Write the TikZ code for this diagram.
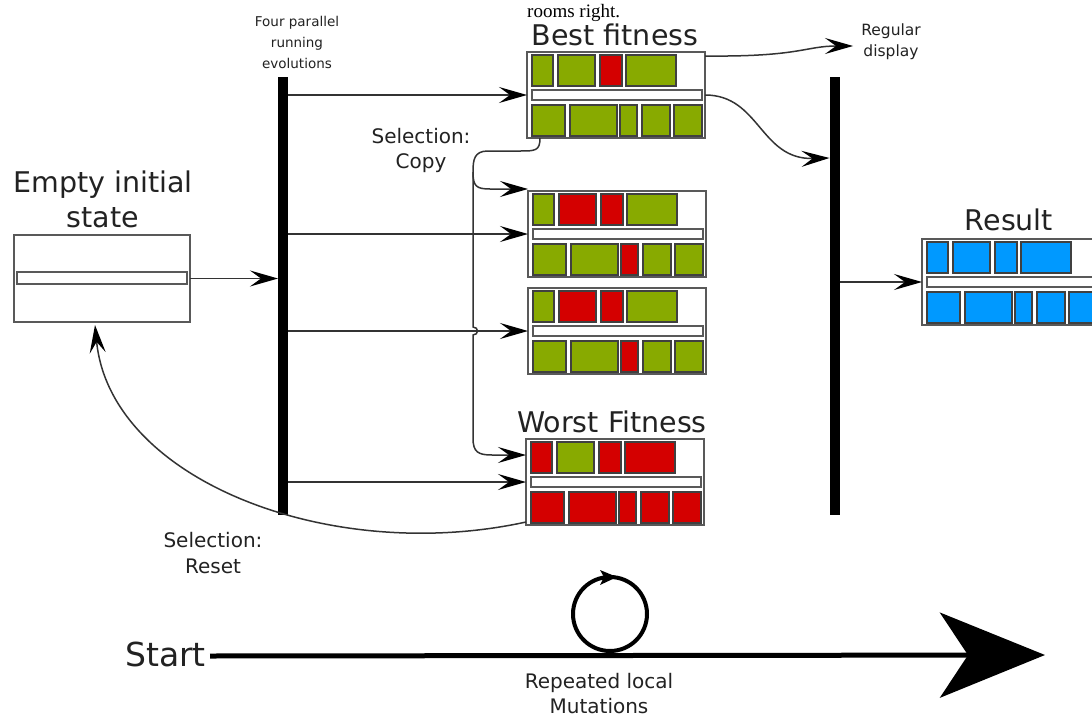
\documentclass[tikz,border=0pt]{standalone}
\usepackage{fontspec}
\setmainfont{DejaVu Sans}
\newfontfamily\serifface{Liberation Serif}
\usetikzlibrary{arrows.meta}
\definecolor{gg}{HTML}{88AA00}
\definecolor{rr}{HTML}{D40000}
\definecolor{bb}{HTML}{0099FF}
\definecolor{txt}{HTML}{222222}
\tikzset{
  gbox/.style={draw=black!65, line width=2pt, fill=white, minimum width=178pt, minimum height=86pt, inner sep=0pt, outer sep=0pt},
  cell/.style={draw=black!75, line width=1.2pt},
  gbar/.style={draw=black!65, line width=1.5pt, fill=white},
  vbar/.style={fill=black, draw=none, minimum width=10pt, minimum height=438pt, inner sep=0pt, outer sep=0pt},
  conn/.style={draw=black!80, line width=1.5pt, -{Stealth[length=28pt,width=16pt,inset=11pt,black]}},
  bigtxt/.style={text=txt, font=\fontsize{28.5}{35}\selectfont, inner sep=0pt},
  midtxt/.style={text=txt, font=\fontsize{20}{25.5}\selectfont, inner sep=0pt},
  smalltxt/.style={text=txt, font=\fontsize{13.5}{20.5}\selectfont, inner sep=0pt},
}
\newcommand\gtop[5]{%
  \begin{scope}[shift={(#1.north west)}]
    \draw[cell,fill=#2] (5,3) rectangle (26,34);
    \draw[cell,fill=#3] (31,3) rectangle (68,34);
    \draw[cell,fill=#4] (73,3) rectangle (95,34);
    \draw[cell,fill=#5] (99,3) rectangle (149,34);
    \draw[gbar] (5,38) rectangle (175,48);
  \end{scope}}
\newcommand\gbot[6]{%
  \begin{scope}[shift={(#1.north west)}]
    \draw[cell,fill=#2] (5,53) rectangle (38,84);
    \draw[cell,fill=#3] (43,53) rectangle (90,84);
    \draw[cell,fill=#4] (93,53) rectangle (110,84);
    \draw[cell,fill=#5] (115,53) rectangle (143,84);
    \draw[cell,fill=#6] (147,53) rectangle (175,84);
  \end{scope}}
\begin{document}
\begin{tikzpicture}[x=1pt,y=-1pt]
\useasboundingbox (0,0) rectangle (1092,717);
\clip (0,0) rectangle (1092,717);
\fill[white] (0,0) rectangle (1092,717);

% bars
\node[vbar] (lbar) at (283,296) {};
\node[vbar] (rbar) at (834.5,296) {};

% empty initial state
\node[gbox, minimum width=176pt, minimum height=87pt] (empty) at (102,278.5) {};
\draw[gbar] ([shift={(3pt,-37pt)}]empty.north west) rectangle ([shift={(173pt,-49pt)}]empty.north west);
\node[bigtxt, anchor=base] (emptyt1) at (103,192) {Empty initial};
\node[bigtxt, anchor=base] (emptyt2) at (103,227) {state};

% genomes
\node[gbox] (best) at (616,95) {};
\gtop{best}{gg}{gg}{rr}{gg}
\gbot{best}{gg}{gg}{gg}{gg}{gg}
\node[gbox] (gen2) at (617,234) {};
\gtop{gen2}{gg}{rr}{rr}{gg}
\gbot{gen2}{gg}{gg}{rr}{gg}{gg}
\node[gbox] (gen3) at (617,331) {};
\gtop{gen3}{gg}{rr}{rr}{gg}
\gbot{gen3}{gg}{gg}{rr}{gg}{gg}
\node[gbox] (worst) at (615,482) {};
\gtop{worst}{rr}{gg}{rr}{rr}
\gbot{worst}{rr}{rr}{rr}{rr}{rr}
\node[gbox] (result) at (1011,282) {};
\gtop{result}{bb}{bb}{bb}{bb}
\gbot{result}{bb}{bb}{bb}{bb}{bb}

% titles
\node[bigtxt, anchor=base] (bestt) at (615,46) {Best fitness};
\node[bigtxt, anchor=base] (worstt) at (612,432) {Worst Fitness};
\node[bigtxt, anchor=base] (resultt) at (1009,230) {Result};
\node[anchor=base west, inner sep=0pt, font=\serifface\fontsize{19}{22}\selectfont] (rooms) at (527,18) {rooms right.};

\node[smalltxt, anchor=base] (fp1) at (297,27) {Four parallel};
\node[smalltxt, anchor=base] (fp2) at (297,48) {running};
\node[smalltxt, anchor=base] (fp3) at (297,69) {evolutions};
\node[smalltxt, anchor=base, font=\fontsize{15.5}{21}\selectfont] (rd1) at (891,36) {Regular};
\node[smalltxt, anchor=base, font=\fontsize{15.5}{21}\selectfont] (rd2) at (891,57) {display};
\node[midtxt, anchor=base] (sc1) at (421,143) {Selection:};
\node[midtxt, anchor=base] (sc2) at (421,168) {Copy};
\node[midtxt, anchor=base] (sr1) at (213,547) {Selection:};
\node[midtxt, anchor=base] (sr2) at (213,573) {Reset};

% connectors
\draw[conn] (empty.east) -- (lbar.west |- empty.east);
\draw[conn] (lbar.east |- best.west) -- (best.west);
\draw[conn] (lbar.east |- gen2.west) -- (gen2.west);
\draw[conn] (lbar.east |- gen3.west) -- (gen3.west);
\draw[conn] (lbar.east |- worst.west) -- (worst.west);
\draw[conn] (rbar.east |- result.west) -- (result.west);

\coordinate (regtip) at (853,46);
\draw[conn] ([yshift=-4pt]best.north east) .. controls (800,57) and (805,46) .. (regtip);
\draw[conn] (best.east) .. controls (760,95) and (760,160) .. (rbar.west |- 0,158);

% selection copy
\draw[conn] ([xshift=13pt]best.south west) .. controls (540,151) and (535,151) .. (520,151)
  -- (488,151) .. controls (474,151) and (473,160) .. (473,172) -- (473,327)
  .. controls (479,327) and (479,335) .. (473,335) -- (473,438)
  .. controls (473,452) and (478,455) .. (492,455) -- ([yshift=-16pt]worst.north west);
\draw[conn] (473,172) .. controls (473,186) and (476,189) .. (490,189) -- ([yshift=2pt]gen2.north west);

% selection reset
\draw[conn] ([yshift=3pt]worst.south west) .. controls (330,565) and (110,480) .. ([xshift=-7pt,yshift=-3pt]empty.south);

% bottom timeline
\node[text=txt, font=\fontsize{33}{38}\selectfont, inner sep=0pt, anchor=base east] (start) at (206,666) {Start};
\draw[black, line width=5pt, -{Stealth[length=105pt,width=85pt,inset=28pt]}] ([xshift=4pt,yshift=-1pt]start.east |- 0,655) -- (1045,655);
\node[draw=black, line width=4pt, circle, minimum size=74pt, inner sep=0pt] (loop) at (610,614) {};
\fill[black] (617,577) -- (600,570) -- (604,577) -- (600,585) -- cycle;
\node[midtxt, anchor=base] (rl1) at (599,688) {Repeated local};
\node[midtxt, anchor=base] (rl2) at (599,713) {Mutations};
\end{tikzpicture}
\end{document}
